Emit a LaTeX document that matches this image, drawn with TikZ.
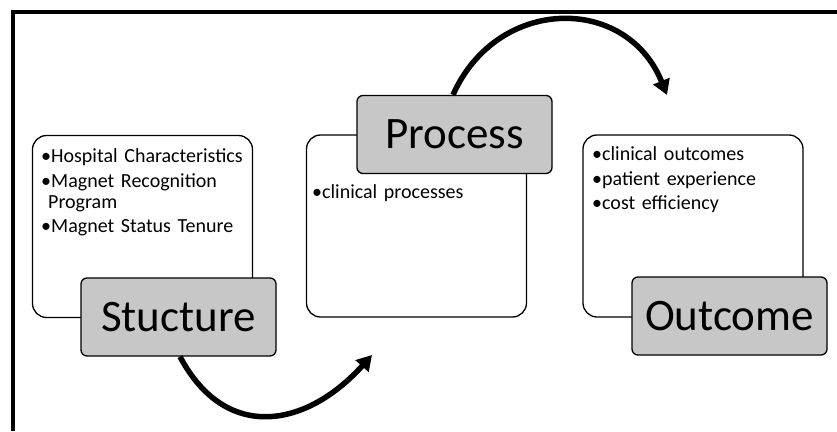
\documentclass[tikz,border=0pt]{standalone}
\usepackage{fontspec}
\setmainfont{Carlito}
\usetikzlibrary{arrows.meta,positioning}

\newcommand{\itm}[1]{\par\hangindent=7pt\hangafter=1\noindent\textbullet#1}

\begin{document}
\begin{tikzpicture}[x=1pt,y=-1pt,
    box/.style={draw,line width=1.3pt,rounded corners=14pt,fill=white,
                minimum width=220pt,minimum height=182pt},
    tag/.style={draw,line width=1.3pt,rounded corners=6pt,fill=black!22,
                minimum width=195pt,minimum height=78pt,inner sep=0pt,
                font=\fontsize{45}{50}\selectfont},
    items/.style={anchor=north west,inner sep=0pt,text width=215pt,align=left,
                  font=\fontsize{20}{21}\selectfont\setlength{\parskip}{3.5pt}},
    flowarrow/.style={line width=5.5pt,-{Triangle[length=15pt,width=17pt]}}]
  \useasboundingbox (0,0) rectangle (837,431);
  % frame
  \draw[line width=4pt] (837,12) -- (13,12) -- (13,431);
  % boxes
  \node[box] (sbox) at (142.5,226.5) {};
  \node[box] (pbox) at (416.5,226) {};
  \node[box] (obox) at (693,226) {};
  \node[items] (stext) at (41,138) {\itm{Hospital Characteristics}\itm{Magnet Recognition\newline Program}\itm{Magnet Status Tenure}};
  \node[items] (ptext) at (312,174) {\itm{clinical processes}};
  \node[items] (otext) at (592,136) {\itm{clinical outcomes}\itm{patient experience}\itm{cost efficiency}};
  % tags
  \node[tag] (stag) at (178.5,317) {Stucture};
  \node[tag] (ptag) at (454.5,134.5) {Process};
  \node[tag] (otag) at (729.5,316) {Outcome};
  % arrows
  \coordinate (stip) at (372,355);
  \coordinate (ptip) at (667,95);
  \draw[flowarrow] ([xshift=1.5pt]stag.south) to[out=-62,in=-132,looseness=1.3] (stip);
  \draw[flowarrow] ([xshift=-1.5pt]ptag.north) to[out=66,in=112,looseness=1.3] (ptip);
\end{tikzpicture}
\end{document}
